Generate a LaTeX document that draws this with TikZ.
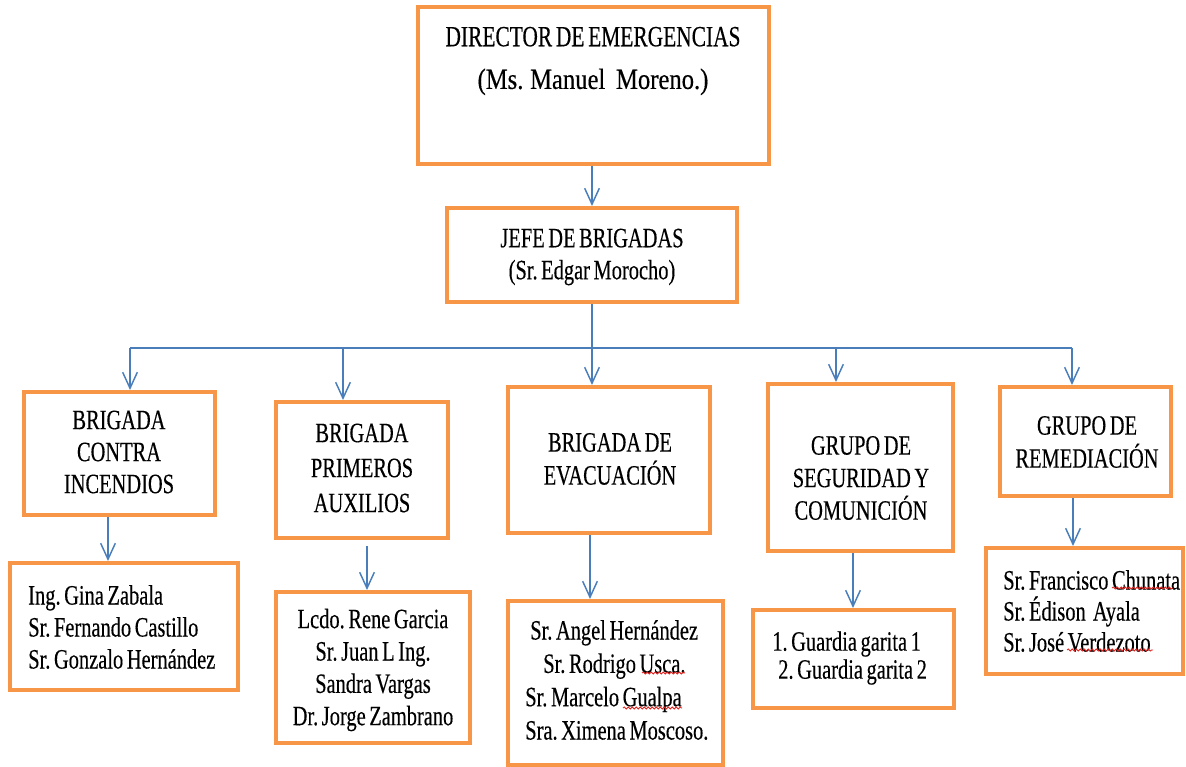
\documentclass[tikz,border=0pt]{standalone}
\usepackage{fontspec}
\setmainfont{Liberation Serif}[FakeStretch=0.73,FakeBold=0.3,WordSpace=0.7]
\usetikzlibrary{arrows.meta,fit,decorations.pathmorphing}
\definecolor{boxorange}{HTML}{F79646}
\definecolor{linkblue}{HTML}{4A7EBB}
\definecolor{spellred}{HTML}{E0201B}
\tikzset{
  box/.style={draw=boxorange, line width=3pt, inner sep=0pt, rectangle},
  txt/.style={inner sep=0pt, align=center, font=\fontsize{21pt}{24pt}\selectfont},
  link/.style={draw=linkblue, line width=1.1pt},
  arr/.style={link, -{Straight Barb[length=12pt,width=11pt]}},
  spell/.style={draw=spellred, line width=0.6pt, decorate, decoration={snake, segment length=3pt, amplitude=0.8pt}}
}
\begin{document}
\frenchspacing
\begin{tikzpicture}[x=0.75pt,y=-0.75pt]
\fill[white] (0,0) rectangle (1186,767);
\useasboundingbox (0,0) rectangle (1186,767);
% boxes
\node[box, fit={(418,7) (769,164)}] (dir) {};
\node[box, fit={(447,208) (737,302)}] (jefe) {};
\node[box, fit={(24,392) (215,515)}] (b1) {};
\node[box, fit={(276,402) (448,538)}] (b2) {};
\node[box, fit={(508,387) (710,533)}] (b3) {};
\node[box, fit={(768,384) (953,551)}] (b4) {};
\node[box, fit={(1000,387) (1171,496)}] (b5) {};
\node[box, fit={(10,563) (238,690)}] (l1) {};
\node[box, fit={(276,592) (470,743)}] (l2) {};
\node[box, fit={(508,601) (723,765)}] (l3) {};
\node[box, fit={(753,610) (954,708)}] (l4) {};
\node[box, fit={(986,548) (1183,674)}] (l5) {};
% texts
\node[txt, font=\fontsize{22pt}{32pt}\selectfont] (tdir) at (593,61) {DIRECTOR DE EMERGENCIAS\\{\addfontfeatures{FakeStretch=0.84}(Ms.\hspace{5pt}Manuel\hspace{8pt}Moreno.)}};
\node[txt] (tjefe) at (592,257) {JEFE DE BRIGADAS\\(Sr. Edgar Morocho)};
\node[txt] (tb1) at (119,452) {BRIGADA\\CONTRA\\INCENDIOS};
\node[txt, font=\fontsize{21pt}{26.25pt}\selectfont] (tb2) at (362,468) {BRIGADA\\PRIMEROS\\AUXILIOS};
\node[txt, font=\fontsize{21pt}{24.75pt}\selectfont] (tb3) at (610,459) {BRIGADA DE\\EVACUACIÓN};
\node[txt, font=\fontsize{21pt}{24.4pt}\selectfont] (tb4) at (861,478) {GRUPO DE\\SEGURIDAD Y\\COMUNICIÓN};
\node[txt, font=\fontsize{21pt}{24.75pt}\selectfont] (tb5) at (1087,442) {GRUPO DE\\REMEDIACIÓN};
\node[txt, align=left, anchor=west] (tl1) at (28,627) {Ing. Gina Zabala\\Sr. Fernando Castillo\\Sr. Gonzalo Hernández};
\node[txt, font=\fontsize{21pt}{24.25pt}\selectfont] (tl2) at (373,670) {Lcdo. Rene Garcia\\Sr. Juan L Ing.\\Sandra Vargas\\Dr. Jorge Zambrano};
\node[txt, align=left, anchor=west, font=\fontsize{21pt}{25pt}\selectfont] (tl3) at (525,680) {\hspace*{3.75pt}Sr. Angel Hernández\\\hspace*{13.5pt}Sr. Rodrigo Usca.\\Sr. Marcelo Gualpa\\Sra. Ximena Moscoso.};
\node[txt, align=left, anchor=west, font=\fontsize{21pt}{21pt}\selectfont] (tl4) at (772,658) {1. Guardia garita 1\\\hspace*{4.5pt}2. Guardia garita 2};
\node[txt, align=left, anchor=west, font=\fontsize{21pt}{23.25pt}\selectfont] (tl5) at (1003,611) {Sr. Francisco Chunata\\Sr. Édison~~Ayala\\Sr. José Verdezoto};
% spell-check marks
\draw[spell] (642,673) -- (685,673);
\draw[spell] (623,708) -- (682,708);
\draw[spell] (1112,588) -- (1173,588);
\draw[spell] (1067,650) -- (1153,650);
% connectors
\draw[arr] (jefe.north |- dir.south) -- (jefe.north);
\coordinate (bus1) at (130,348);
\coordinate (bus2) at (343,348);
\coordinate (bus4) at (836,348);
\coordinate (bus5) at (1072,348);
\draw[link] (bus1) -- (bus5);
\draw[arr] (jefe.south) -- (jefe.south |- b3.north);
\draw[arr] (bus1) -- (bus1 |- b1.north);
\draw[arr] (bus2) -- (bus2 |- b2.north);
\draw[arr] (bus4) -- (bus4 |- b4.north);
\draw[arr] (bus5) -- (bus5 |- b5.north);
\coordinate (s1) at (108,0);
\coordinate (s2) at (367,546);
\coordinate (s3) at (590,0);
\coordinate (s4) at (853,0);
\coordinate (s5) at (1073,0);
\draw[arr] (s1 |- b1.south) -- (s1 |- l1.north);
\draw[arr] (s2) -- (s2 |- l2.north);
\draw[arr] (s3 |- b3.south) -- (s3 |- l3.north);
\draw[arr] (s4 |- b4.south) -- (s4 |- l4.north);
\draw[arr] (s5 |- b5.south) -- (s5 |- l5.north);
\end{tikzpicture}
\end{document}
